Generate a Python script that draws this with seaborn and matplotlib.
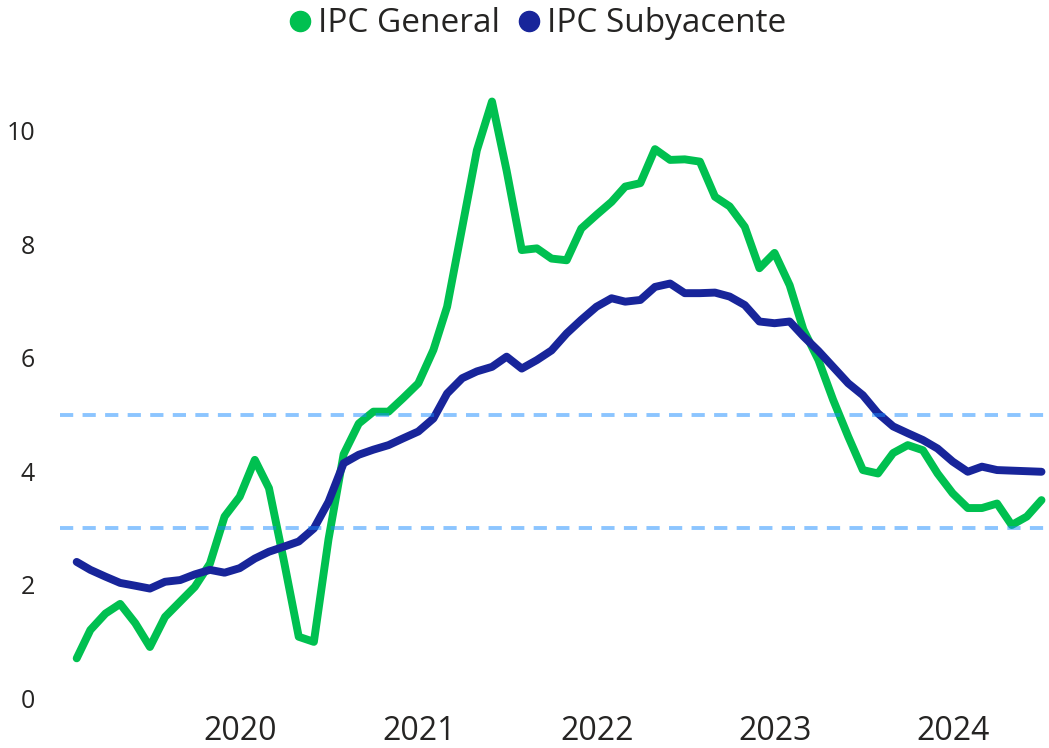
import pandas as pd
import numpy as np
import matplotlib
matplotlib.use("Agg")
import matplotlib.pyplot as plt
from matplotlib.lines import Line2D
import seaborn as sns

# monthly data, Jan 2019 - Jun 2024 (month end)
meses = pd.date_range("2019-01-31", periods=66, freq="ME")

ipc_general = [0.70, 1.20, 1.49, 1.66, 1.32, 0.90, 1.43, 1.70, 1.96, 2.37, 3.20, 3.55,
               4.20, 3.70, 2.40, 1.08, 0.99, 2.80, 4.30, 4.84, 5.05, 5.05, 5.29, 5.55,
               6.14, 6.90, 8.30, 9.66, 10.52, 9.30, 7.90, 7.93, 7.75, 7.72, 8.28, 8.52,
               8.75, 9.02, 9.08, 9.68, 9.49, 9.50, 9.46, 8.84, 8.67, 8.31, 7.58, 7.85,
               7.28, 6.50, 5.96, 5.26, 4.61, 4.02, 3.96, 4.32, 4.46, 4.37, 3.96, 3.61,
               3.35, 3.35, 3.43, 3.05, 3.20, 3.49]

ipc_subyacente = [2.40, 2.26, 2.14, 2.03, 1.98, 1.93, 2.05, 2.08, 2.18, 2.26, 2.21, 2.29,
                  2.46, 2.58, 2.67, 2.76, 2.99, 3.46, 4.14, 4.29, 4.38, 4.46, 4.58, 4.70,
                  4.93, 5.37, 5.64, 5.76, 5.84, 6.02, 5.81, 5.96, 6.13, 6.43, 6.67, 6.90,
                  7.05, 6.99, 7.02, 7.25, 7.31, 7.14, 7.14, 7.15, 7.08, 6.93, 6.64, 6.61,
                  6.64, 6.38, 6.12, 5.84, 5.55, 5.34, 5.02, 4.79, 4.67, 4.55, 4.40, 4.17,
                  3.99, 4.08, 4.02, 4.01, 4.00, 3.99]

rango_meta = [3, 5]
anios = [2020, 2021, 2022, 2023, 2024]
y_ticks = [0, 2, 4, 6, 8, 10]

df = pd.DataFrame({"fecha": list(meses) * 2,
                   "valor": ipc_general + ipc_subyacente,
                   "serie": ["IPC General"] * 66 + ["IPC Subyacente"] * 66})

colores = {"IPC General": "#00c050", "IPC Subyacente": "#18259a"}

sns.set_style("white")
plt.rcParams["font.family"] = ["Open Sans", "DejaVu Sans"]

fig = plt.figure(figsize=(10.49, 7.48), dpi=100)
ax = fig.add_axes([60 / 1049, 50 / 748, 985 / 1049, 618 / 748])

sns.lineplot(data=df, x="fecha", y="valor", hue="serie", palette=colores,
             linewidth=5.7, ax=ax, legend=False, solid_joinstyle="round",
             solid_capstyle="round")
for ln in ax.lines:
    ln.set_clip_on(False)

for v in rango_meta:
    ax.axhline(v, color="#1a8cff", alpha=0.5, linewidth=2.8,
               dashes=(3.4, 2.4), zorder=5)

# x range: px -> days (0.488 px per day, first point at 76.7 px)
t0 = pd.Timestamp("2019-01-31")
ax.set_xlim(t0 - pd.Timedelta(days=(76.7 - 60) / 0.488),
            t0 + pd.Timedelta(days=(1045 - 76.7) / 0.488))
ax.set_ylim(0, (698 - 80) / 56.7)

ax.set_xticks([pd.Timestamp(f"{a}-01-01") for a in anios])
ax.set_xticklabels([str(a) for a in anios], fontsize=23, color="#252423")
ax.set_yticks(y_ticks)
ax.set_yticklabels([str(t) for t in y_ticks], fontsize=18, color="#252423")
ax.tick_params(axis="both", length=0)
ax.tick_params(axis="y", pad=18)
ax.tick_params(axis="x", pad=12)
ax.set_xlabel("")
ax.set_ylabel("")
sns.despine(ax=ax, left=True, bottom=True)

handles = [Line2D([], [], marker="o", linestyle="", color=colores[k],
                  markersize=14.5) for k in colores]
fig.legend(handles, list(colores.keys()), loc="center",
           bbox_to_anchor=(0.511, 1 - 24 / 748), ncol=2, frameon=False,
           fontsize=24, handletextpad=0.14, columnspacing=0.47,
           handlelength=0.8, borderpad=0, labelcolor="#252423")

fig.savefig("out.png", dpi=100)
